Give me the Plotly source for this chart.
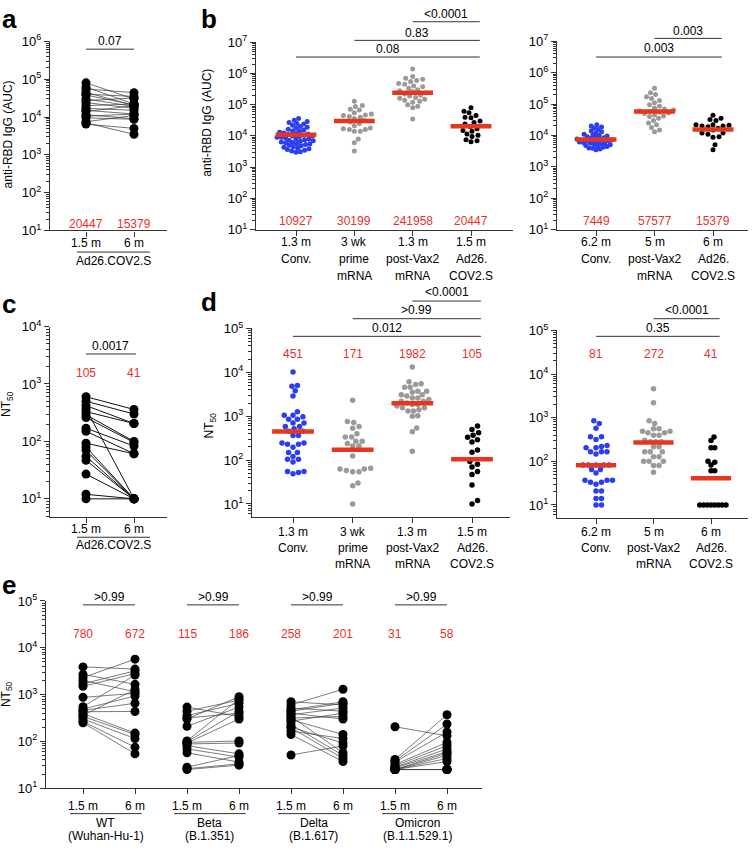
import numpy as np
import plotly.graph_objects as go

W, H = 754, 852
FONT = "Liberation Sans, Arial, Helvetica, sans-serif"
RED_BAR = "#E8361E"
RED_TXT = "#E8302A"
BLUE = "#2B3EF2"
GREY = "#9A9A9A"
BLACK = "#000000"
AXIS = "#333333"

# ---------------- data ----------------
# Panel a: anti-RBD IgG (AUC), Ad26.COV2.S, paired 1.5 m -> 6 m
a_times = ["1.5 m", "6 m"]
a_group = "Ad26.COV2.S"
a_auc_15m = [80000, 62000, 55000, 45000, 40000, 38000, 30000, 27000, 24000, 20000,
             17000, 15000, 14000, 11500, 10500, 9500, 7500, 7000, 6500]
a_auc_6m = [30000, 22000, 44000, 20000, 35000, 21000, 19000, 32000, 17000, 22000,
            15000, 12000, 20000, 9000, 12000, 8700, 11000, 3500, 5000]
a_gm = [20447, 15379]
a_p = [("0.07", 0, 1)]

# Panel b (left): anti-RBD IgG (AUC) at early time points
bl_cats = [["1.3 m", "Conv."], ["3 wk", "prime", "mRNA"],
           ["1.3 m", "post-Vax2", "mRNA"], ["1.5 m", "Ad26.", "COV2.S"]]
bl_conv = [36000, 32000, 29000, 27000, 25000, 24000, 22000, 20000, 19000, 17500,
           16500, 15500, 14500, 14000, 13000, 12500, 12000, 11500, 11000, 10500,
           10000, 10000, 9500, 9000, 9000, 8500, 8000, 8000, 7500, 7200, 7000, 6700,
           6400, 6200, 6000, 5700, 5500, 5300, 5000, 4800, 4500, 4300, 4100, 3900,
           3700, 3500, 3300, 3100, 3000]
bl_prime = [130000, 95000, 88000, 72000, 68000, 55000, 50000, 47000, 45000, 42000,
            40000, 36000, 31000, 28000, 25000, 21000, 18000, 17000, 16000, 16000,
            14000, 14000, 8000, 6000, 3300]
bl_vax2 = [1400000, 800000, 700000, 650000, 600000, 550000, 480000, 450000, 400000,
           380000, 340000, 300000, 280000, 260000, 240000, 220000, 200000, 190000,
           170000, 160000, 150000, 140000, 130000, 120000, 100000, 90000, 80000, 35000]
bl_ad26 = a_auc_15m
bl_gm = [10927, 30199, 241958, 20447]
bl_p = [("0.08", 0, 3), ("0.83", 1, 3), ("<0.0001", 2, 3)]

# Panel b (right): anti-RBD IgG (AUC) at later time points
br_cats = [["6.2 m", "Conv."], ["5 m", "post-Vax2", "mRNA"], ["6 m", "Ad26.", "COV2.S"]]
br_conv = [22000, 20000, 18500, 17000, 15500, 14000, 13000, 12000, 11000, 10500,
           10000, 9500, 9000, 8700, 8400, 8000, 7700, 7500, 7200, 7000, 6800, 6600,
           6400, 6200, 6000, 5800, 5600, 5400, 5200, 5000, 4800, 4600, 4400, 4200,
           4000, 3900, 3700, 3500]
br_vax2 = [320000, 230000, 200000, 170000, 150000, 130000, 110000, 95000, 85000,
           75000, 70000, 65000, 60000, 58000, 55000, 52000, 50000, 45000, 42000,
           40000, 35000, 30000, 25000, 22000, 18000, 15000, 13000]
br_ad26 = a_auc_6m
br_gm = [7449, 57577, 15379]
br_p = [("0.003", 0, 2), ("0.003", 1, 2)]

# Panel c: NT50, Ad26.COV2.S, paired 1.5 m -> 6 m
c_nt_15m = [600, 500, 420, 370, 330, 290, 260, 170, 150, 93, 80, 70, 55, 47, 27, 12, 10]
c_nt_6m = [360, 300, 205, 10, 205, 100, 96, 83, 61, 61, 10, 10, 10, 10, 10, 10, 10]
c_gm = [105, 41]
c_p = [("0.0017", 0, 1)]
c_lod = 10

# Panel d (left): NT50 early
dl_conv = [10200, 5000, 4800, 3800, 2900, 1260, 1050, 1050, 970, 850, 850, 700, 700,
           580, 580, 515, 455, 455, 365, 365, 245, 245, 230, 230, 195, 148, 148, 120,
           105, 105, 90, 55, 55, 52, 49]
dl_prime = [2300, 760, 720, 580, 535, 400, 335, 335, 270, 270, 240, 210, 210, 124,
            65, 63, 63, 58, 54, 54, 30, 26, 10]
dl_vax2 = [13300, 6100, 5500, 5300, 4600, 4600, 3700, 3700, 3500, 3100, 3100, 2900,
           2600, 2600, 2400, 2200, 2200, 2000, 1860, 1860, 1700, 1560, 1560, 1400,
           1320, 1320, 1030, 1000, 540, 440, 160]
dl_ad26 = c_nt_15m
dl_gm = [451, 171, 1982, 105]
dl_p = [("0.012", 0, 3), (">0.99", 1, 3), ("<0.0001", 2, 3)]

# Panel d (right): NT50 later
dr_conv = [850, 740, 575, 365, 365, 315, 230, 220, 205, 205, 165, 165, 165, 148, 83,
           83, 83, 83, 83, 65, 65, 54, 37, 37, 37, 33, 33, 30, 21, 21, 14, 14, 10, 10]
dr_vax2 = [4600, 2200, 850, 740, 560, 560, 490, 490, 450, 450, 395, 395, 305, 280,
           280, 280, 215, 215, 165, 165, 165, 128, 128, 100, 100, 100, 80, 80, 56]
dr_ad26 = c_nt_6m
dr_gm = [81, 272, 41]
dr_p = [("0.35", 0, 2), ("<0.0001", 1, 2)]

# Panel e: NT50 against variants, paired 1.5 m -> 6 m
e_groups = [("WT", "(Wuhan-Hu-1)"), ("Beta", "(B.1.351)"),
            ("Delta", "(B.1.617)"), ("Omicron", "(B.1.1.529.1)")]
e_15m = [
    [3900, 2700, 2300, 2000, 1700, 1500, 870, 550, 490, 460, 430, 390, 360, 340, 300, 265, 250],
    [540, 440, 355, 315, 300, 210, 102, 98, 95, 92, 88, 81, 69, 57, 28, 26, 25],
    [700, 600, 515, 470, 440, 400, 370, 340, 315, 290, 270, 230, 200, 195, 165, 140, 51],
    [205, 41, 38, 36, 32, 30, 28, 27, 25, 25, 25, 25, 25, 25, 25, 25, 25],
]
e_6m = [
    [3500, 1650, 5700, 1150, 3200, 2800, 1060, 2600, 930, 650, 435, 150, 1280, 140, 115, 75, 54],
    [340, 760, 650, 400, 900, 540, 800, 440, 102, 300, 92, 54, 46, 36, 50, 33, 31],
    [600, 1300, 440, 700, 650, 300, 515, 57, 340, 140, 400, 50, 92, 43, 115, 37, 80],
    [131, 370, 235, 158, 95, 81, 69, 60, 56, 50, 43, 37, 25, 25, 25, 25, 25],
]
e_gm = [[780, 672], [115, 186], [258, 201], [31, 58]]
e_p = [">0.99", ">0.99", ">0.99", ">0.99"]
e_lod = 25

# ---------------- layout geometry (pixels) ----------------
GEOM = {
    1: dict(x0=50, x1=167, ytop=33, ybot=226, yr=(1, 6), cat_px=[86, 134]),
    2: dict(x0=256, x1=513, ytop=34, ybot=225, yr=(1, 7), cat_px=[296, 355, 411, 471]),
    3: dict(x0=557, x1=748, ytop=33, ybot=225, yr=(1, 7), cat_px=[596, 655, 713]),
    4: dict(x0=50, x1=167, ytop=324, ybot=518, yr=(0.69, 4), cat_px=[86, 134]),
    5: dict(x0=252, x1=510, ytop=326, ybot=518, yr=(0.71, 5), cat_px=[293, 352, 411, 472]),
    6: dict(x0=557, x1=748, ytop=328, ybot=519, yr=(0.71, 5), cat_px=[596, 653, 711]),
    7: dict(x0=46, x1=482, ytop=604, ybot=795, yr=(1, 5),
            cat_px=[83, 135, 187, 238, 291, 343, 395, 447]),
}

fig = go.Figure()
layout = dict(width=W, height=H, margin=dict(l=0, r=0, t=0, b=0),
              paper_bgcolor="white", plot_bgcolor="white", showlegend=False,
              font=dict(family=FONT, size=12, color="black"))
shapes, annotations = [], []


def py(p):
    return 1 - p / H


def names(i):
    s = "" if i == 1 else str(i)
    return "x" + s, "y" + s, "xaxis" + s, "yaxis" + s


def setup(i):
    g = GEOM[i]
    xr, yr, xk, yk = names(i)
    n = len(g["cat_px"])
    unit = (g["cat_px"][-1] - g["cat_px"][0]) / (n - 1)
    g["unit"] = unit
    g["ppd"] = (g["ybot"] - g["ytop"]) / (g["yr"][1] - g["yr"][0])
    r0 = (g["x0"] - g["cat_px"][0]) / unit
    r1 = (g["x1"] - g["cat_px"][0]) / unit
    layout[xk] = dict(domain=[g["x0"] / W, g["x1"] / W], range=[r0, r1], anchor=yr,
                      showline=True, linecolor=AXIS, linewidth=1.3, ticks="outside",
                      ticklen=5, tickwidth=1.3, tickcolor=AXIS, tickvals=list(range(n)),
                      showticklabels=False, showgrid=False, zeroline=False, fixedrange=True)
    lo, hi = g["yr"]
    major = list(range(int(np.ceil(lo - 1e-9)), int(np.floor(hi + 1e-9)) + 1))
    minor = []
    for k in range(int(np.floor(lo)), int(np.ceil(hi))):
        for m in range(2, 10):
            v = m * 10 ** k
            if lo <= np.log10(v) <= hi:
                minor.append(v)
    layout[yk] = dict(domain=[py(g["ybot"]), py(g["ytop"])], type="log", range=[lo, hi],
                      anchor=xr, showline=True, linecolor=AXIS, linewidth=1.3,
                      ticks="outside", ticklen=5, tickwidth=1.2, tickcolor=AXIS,
                      tickvals=[10 ** k for k in major],
                      ticktext=[f"10<sup>{k}</sup>" for k in major],
                      tickfont=dict(size=13, family=FONT), showgrid=False, zeroline=False,
                      fixedrange=True,
                      minor=dict(tickvals=minor, ticks="outside", ticklen=3, tickwidth=1,
                                 tickcolor=AXIS, showgrid=False))


def ann(text, x, y, xref="paper", size=12, color="black", xanchor="center",
        yanchor="middle", angle=0):
    annotations.append(dict(text=text, x=x, y=y, xref=xref, yref="paper",
                            showarrow=False, xanchor=xanchor, yanchor=yanchor,
                            textangle=angle, font=dict(size=size, color=color, family=FONT)))


def hline_paper(x0, x1, ypx, xref="paper", width=1.0, dash="solid", color=AXIS):
    shapes.append(dict(type="line", xref=xref, yref="paper", x0=x0, x1=x1,
                       y0=py(ypx), y1=py(ypx), line=dict(color=color, width=width, dash=dash)))


def swarm(values, ppd, ppu, d, gap, maxw):
    """Beeswarm x offsets (layout only), derived from the values' pixel heights."""
    ys = np.log10(np.asarray(values, float)) * ppd
    order = np.argsort(ys, kind="stable")
    px_, py_ = [], []
    off = np.zeros(len(ys))
    step = d * 0.2
    for idx in order:
        k = 0
        while True:
            m = (k + 1) // 2
            cand = 0.0 if k == 0 else (m * step if k % 2 == 1 else -m * step)
            ok = True
            for a, b in zip(px_, py_):
                if (cand - a) ** 2 + (ys[idx] - b) ** 2 < (d * gap) ** 2:
                    ok = False
                    break
            if ok:
                break
            k += 1
        off[idx] = cand
        px_.append(cand)
        py_.append(ys[idx])
    mx = np.abs(off).max()
    if mx > maxw:
        off = off * (maxw / mx)
    return off / ppu


def dot_panel(i, groups, colors, gms, size, red_y, gaps, maxws):
    g = GEOM[i]
    xr, yr, _, _ = names(i)
    for j, (vals, col, gp, mw) in enumerate(zip(groups, colors, gaps, maxws)):
        off = swarm(vals, g["ppd"], g["unit"], size, gp, mw)
        fig.add_trace(go.Scatter(x=j + off, y=vals, mode="markers", xaxis=xr, yaxis=yr,
                                 marker=dict(color=col, size=size, line=dict(width=0)),
                                 hoverinfo="skip"))
    for j, gm in enumerate(gms):
        fig.add_trace(go.Scatter(x=[j - 0.35, j + 0.35], y=[gm, gm], mode="lines",
                                 xaxis=xr, yaxis=yr, line=dict(color=RED_BAR, width=4.5),
                                 hoverinfo="skip"))
        ann(str(gm), j, py(red_y), xref=xr, color=RED_TXT)


def paired(i, x_a, x_b, va, vb, size=9, lw=0.8, lcolor="#333333"):
    xr, yr, _, _ = names(i)
    lx, ly = [], []
    for a, b in zip(va, vb):
        lx += [x_a, x_b, None]
        ly += [a, b, None]
    fig.add_trace(go.Scatter(x=lx, y=ly, mode="lines", xaxis=xr, yaxis=yr,
                             line=dict(color=lcolor, width=lw), hoverinfo="skip"))
    fig.add_trace(go.Scatter(x=[x_a] * len(va) + [x_b] * len(vb), y=list(va) + list(vb),
                             mode="markers", xaxis=xr, yaxis=yr,
                             marker=dict(color=BLACK, size=size, line=dict(width=0)),
                             hoverinfo="skip"))


def brackets(i, plist, levels, ext=0.15):
    xr = names(i)[0]
    for (txt, a, b), (yl, yt) in zip(plist, levels):
        x1 = b + ext
        hline_paper(a, x1, yl, xref=xr)
        ann(txt, (a + x1) / 2, py(yt), xref=xr)


def cat_labels(i, cats, ys):
    xr = names(i)[0]
    for j, lines in enumerate(cats):
        for k, t in enumerate(lines):
            ann(t, j, py(ys[k]), xref=xr)


for i in GEOM:
    setup(i)

# ---- panel a ----
paired(1, 0, 1, a_auc_15m, a_auc_6m, lw=0.7)
for j, gm in enumerate(a_gm):
    ann(str(gm), j, py(219), xref="x", color=RED_TXT)
brackets(1, a_p, [(41, 33)], ext=0)
cat_labels(1, [[t] for t in a_times], [239])
hline_paper(77 / W, 150 / W, 248, width=1.0)
ann(a_group, 113 / W, py(257))
ann("anti-RBD IgG (AUC)", 8 / W, py(128), angle=-90)

# ---- panel b ----
dot_panel(2, [bl_conv, bl_prime, bl_vax2, bl_ad26], [BLUE, GREY, GREY, BLACK], bl_gm, 5,
          216, [0.9, 1.05, 1.05, 1.05], [19, 20, 23, 19])
brackets(2, bl_p, [(49, 41), (32, 24), (13, 5)])
cat_labels(2, bl_cats, [238, 255, 272])
ann("anti-RBD IgG (AUC)", 207 / W, py(116), angle=-90)

dot_panel(3, [br_conv, br_vax2, br_ad26], [BLUE, GREY, BLACK], br_gm, 5, 216,
          [0.85, 1.05, 1.05], [19, 20, 20])
brackets(3, br_p, [(49, 40), (30, 22)])
cat_labels(3, br_cats, [238, 255, 272])

# ---- panel c ----
shapes.append(dict(type="line", xref="paper", yref="y4", x0=33 / W, x1=167 / W,
                   y0=np.log10(c_lod), y1=np.log10(c_lod),
                   line=dict(color="black", width=1.5, dash="dot")))
paired(4, 0, 1, c_nt_15m, c_nt_6m, lw=1.0, lcolor="#111111")
for j, gm in enumerate(c_gm):
    ann(str(gm), j, py(371), xref="x4", color=RED_TXT)
brackets(4, c_p, [(352, 344)], ext=0.04)
cat_labels(4, [[t] for t in a_times], [531])
hline_paper(77 / W, 150 / W, 539, width=1.0)
ann(a_group, 113 / W, py(547))
ann("NT<sub>50</sub>", 7 / W, py(403), angle=-90)

# ---- panel d ----
shapes.append(dict(type="line", xref="paper", yref="y5", x0=245 / W, x1=510 / W,
                   y0=np.log10(c_lod), y1=np.log10(c_lod),
                   line=dict(color="black", width=1.5, dash="dot")))
shapes.append(dict(type="line", xref="paper", yref="y6", x0=550 / W, x1=748 / W,
                   y0=np.log10(c_lod), y1=np.log10(c_lod),
                   line=dict(color="black", width=1.5, dash="dot")))
dot_panel(5, [dl_conv, dl_prime, dl_vax2, dl_ad26], [BLUE, GREY, GREY, BLACK], dl_gm, 5.5,
          352, [1.0, 1.05, 1.0, 1.05], [17, 18, 17, 13])
brackets(5, dl_p, [(334, 325), (316, 307), (298, 289)])
cat_labels(5, bl_cats, [534, 550, 566])
ann("NT<sub>50</sub>", 210 / W, py(425), angle=-90)

dot_panel(6, [dr_conv, dr_vax2, dr_ad26], [BLUE, GREY, BLACK], dr_gm, 5.5, 352,
          [1.0, 1.0, 0.95], [17, 18, 15])
brackets(6, dr_p, [(334, 325), (316, 307)])
cat_labels(6, br_cats, [534, 550, 566])

# ---- panel e ----
shapes.append(dict(type="line", xref="paper", yref="y7", x0=46 / W, x1=482 / W,
                   y0=np.log10(e_lod), y1=np.log10(e_lod),
                   line=dict(color="black", width=1.5, dash="dot")))
for gi, (lab, sub) in enumerate(e_groups):
    xa, xb = 2 * gi, 2 * gi + 1
    paired(7, xa, xb, e_15m[gi], e_6m[gi], lw=0.7, lcolor="#444444")
    for j, gm in enumerate(e_gm[gi]):
        ann(str(gm), xa + j, py(638), xref="x7", color=RED_TXT)
    hline_paper(xa, xb, 608, xref="x7")
    ann(e_p[gi], (xa + xb) / 2, py(600), xref="x7")
    ann(a_times[0], xa, py(813), xref="x7")
    ann(a_times[1], xb, py(813), xref="x7")
    hline_paper(xa - 0.25, xb + 0.13, 821, xref="x7", width=1.0)
    ann(lab, (xa + xb) / 2 - 0.06, py(831), xref="x7")
    ann(sub, (xa + xb) / 2 - 0.06, py(844), xref="x7")
ann("NT<sub>50</sub>", 7 / W, py(699), angle=-90)

# ---- panel letters ----
for letter, xp, yp in [("a", 0, 28), ("b", 199, 28), ("c", 0, 318), ("d", 199, 316), ("e", 0, 605)]:
    ann(f"<b>{letter}</b>", xp / W, py(yp), size=26, xanchor="left", yanchor="bottom")

layout["shapes"] = shapes
layout["annotations"] = annotations
fig.update_layout(**layout)
fig.write_html("out.html", config={"displayModeBar": False},
               post_script="document.body.style.margin='0px';document.body.style.padding='0px';")
